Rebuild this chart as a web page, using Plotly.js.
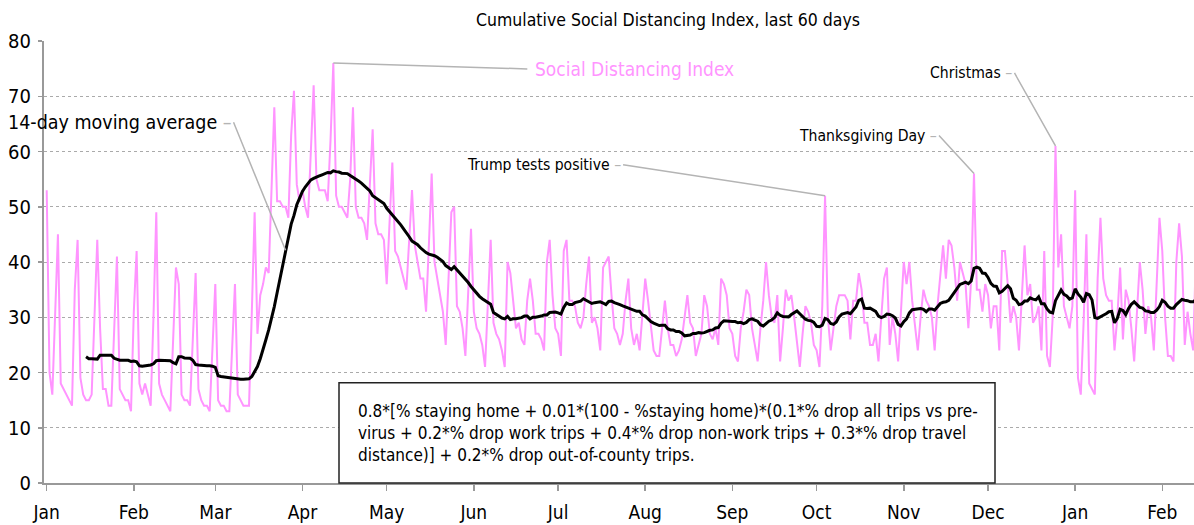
<!DOCTYPE html>
<html><head><meta charset="utf-8">
<script src="https://cdn.plot.ly/plotly-3.0.1.min.js"></script>
<style>html,body{margin:0;padding:0;background:#fff}#chart{width:1194px;height:525px}</style>
</head><body><div id="chart"></div>
<script>
const startDate = '2020-01-01';
const sdi = [
53,20,16,30,
45,18,17,16,15,14,35,
44,19,16,15,15,16,30,
44,28,17,17,14,14,27,
41,17,16,15,15,13,31,
42,18,16,18,16,14,30,
49,18,16,15,14,13,26,
39,36,16,15,15,14,25,
38,17,15,14,14,13,25,
36,15,14,14,13,13,25,
36,16,15,14,14,14,31,
49,27,34,36,39,38,52,
68,51,51,50,50,48,63,
71,54,51,53,50,48,60,
72,55,53,53,53,51,62,
76,52,50,50,49,48,55,
68,50,48,48,47,44,55,
64,47,45,45,44,36,47,
58,42,41,39,37,35,44,
53,43,40,37,37,31,43,
56,40,37,34,31,25,38,
49,50,32,31,28,23,34,
46,31,28,27,25,21,33,
44,29,27,26,24,21,40,
38,33,28,29,26,25,33,
37,33,27,27,26,24,40,
44,34,28,27,23,42,44,
33,33,32,29,28,30,36,
41,29,30,28,24,39,40,
41,34,28,27,25,27,33,
37,28,25,27,24,30,37,
33,28,24,23,23,28,33,
28,25,25,23,24,26,30,
34,29,28,23,25,27,34,
32,27,26,28,25,37,36,
34,28,27,23,22,28,31,
35,34,28,25,22,28,33,
40,34,30,29,34,22,28,
35,33,34,30,26,21,27,
32,31,29,25,24,21,32,
52,30,24,28,32,34,34,
34,33,26,33,33,38,35,
29,29,25,25,27,22,30,
37,39,25,30,27,22,31,
40,36,40,33,28,24,30,
35,33,32,30,24,32,38,
43,37,44,43,39,33,40,
38,36,28,37,56,35,35,
31,36,34,28,32,32,24,
42,42,36,29,32,30,24,
33,43,34,36,29,30,32,
24,42,23,21,30,61,39,
45,32,30,28,32,53,19,
16,29,45,18,17,16,37,
48,37,34,33,33,24,30,
39,26,35,33,28,22,31,
40,35,27,32,30,24,36,
48,42,30,23,23,22,40,
47,41,25,31,27,24,42
];
const maWindow = 14;
const maFirstIndex = 14;
const monthTicks = ['2020-01-01','2020-02-01','2020-03-01','2020-04-01','2020-05-01','2020-06-01','2020-07-01','2020-08-01','2020-09-01','2020-10-01','2020-11-01','2020-12-01','2021-01-01','2021-02-01'];
const monthLabels = ['Jan','Feb','Mar','Apr','May','Jun','Jul','Aug','Sep','Oct','Nov','Dec','Jan','Feb'];
const yTicks = [0,10,20,30,40,50,60,70,80];
const titleText = 'Cumulative Social Distancing Index, last 60 days';
const seriesName = 'Social Distancing Index';
const maName = '14-day moving average';
const sdiLabelDate = '2020-04-12';
const maLabelDate = '2020-03-26';
const eventLabels = ['Trump tests positive','Thanksgiving Day','Christmas'];
const eventDates = ['2020-10-04','2020-11-26','2020-12-25'];
const formulaLines = [
 '0.8*[% staying home + 0.01*(100 - %staying home)*(0.1*% drop all trips vs pre-',
 'virus + 0.2*% drop work trips + 0.4*% drop non-work trips + 0.3*% drop travel',
 'distance)] + 0.2*% drop out-of-county trips.'
];

function addDays(s, n){ const d = new Date(s+'T00:00:00Z'); d.setUTCDate(d.getUTCDate()+n); return d.toISOString().slice(0,10); }
const dates = sdi.map((_, i) => addDays(startDate, i));
const ma = sdi.map((_, i) => i < maFirstIndex ? null : sdi.slice(i-maWindow+1, i+1).reduce((a,b)=>a+b,0)/maWindow);
const idx = d => dates.indexOf(d);

const FONT = "'DejaVu Sans Condensed','Liberation Sans Narrow',sans-serif";
const PINK = '#ff94ff';
const LEAD = '#b4b4b4';

const traces = [
 {x: dates, y: sdi, type:'scatter', mode:'lines', line:{color:PINK, width:2}, name:seriesName, hoverinfo:'skip'},
 {x: dates, y: ma, type:'scatter', mode:'lines', line:{color:'#000', width:3}, name:maName, connectgaps:false, hoverinfo:'skip'}
];

const annotations = [];
annotations.push({x: sdiLabelDate, y: sdi[idx(sdiLabelDate)], xref:'x', yref:'y', text: seriesName,
  showarrow:true, arrowhead:0, arrowwidth:1.5, arrowcolor:LEAD, ax:200, ay:6,
  xanchor:'left', yanchor:'middle', font:{family:FONT, size:19, color:PINK}, startstandoff:6});
annotations.push({x: maLabelDate, y: ma[idx(maLabelDate)], xref:'x', yref:'y',
  text: maName + ' <span style="color:'+LEAD+'">–</span>',
  showarrow:true, arrowhead:0, arrowwidth:1.5, arrowcolor:LEAD, ax:-52, ay:-128,
  xanchor:'right', yanchor:'middle', font:{family:FONT, size:19.5, color:'#000'}});
const evOffsets = [[-202,-31],[-35,-38],[-41,-73]];
eventLabels.forEach((lab, k) => {
  annotations.push({x: eventDates[k], y: sdi[idx(eventDates[k])], xref:'x', yref:'y',
    text: lab + ' <span style="color:'+LEAD+'">–</span>',
    showarrow:true, arrowhead:0, arrowwidth:1.5, arrowcolor:LEAD, ax:evOffsets[k][0], ay:evOffsets[k][1],
    xanchor:'right', yanchor:'middle', font:{family:FONT, size:15.6, color:'#000'}});
});
annotations.push({xref:'paper', yref:'paper', x:(356-44)/1150, y:(483.3-433)/442, xanchor:'left', yanchor:'middle',
  text: formulaLines.join('<br>'), showarrow:false, align:'left', font:{family:FONT, size:17, color:'#000'}});

const layout = {
  width:1194, height:525,
  margin:{l:44, r:0, t:41, b:42, pad:0},
  paper_bgcolor:'#fff', plot_bgcolor:'#fff',
  showlegend:false,
  font:{family:FONT, color:'#000'},
  title:{text:titleText, font:{family:FONT, size:17.5, color:'#000'}, xref:'container', yref:'container', x:668/1194, xanchor:'center', y:1-20/525, yanchor:'middle'},
  xaxis:{type:'date', range:['2019-12-31 00:56','2021-02-12 07:00'], tickmode:'array', tickvals:monthTicks, ticktext:monthLabels,
    showgrid:false, zeroline:false, showline:true, linecolor:'#999', linewidth:2,
    ticks:'outside', ticklen:6, tickwidth:1.5, tickcolor:'#999', tickfont:{family:FONT, size:19, color:'#000'}, ticklabelstandoff:5},
  yaxis:{range:[0,80], tickmode:'array', tickvals:yTicks, showgrid:true, gridcolor:'#aaa', griddash:'dot', gridwidth:1,
    zeroline:false, showline:true, linecolor:'#999', linewidth:2, ticks:'outside', ticklen:4, tickwidth:1.5, tickcolor:'#999',
    tickfont:{family:FONT, size:20, color:'#000'}, ticklabelstandoff:3},
  shapes:[{type:'rect', xref:'paper', yref:'paper', x0:(339-44)/1150, x1:(995-44)/1150, y0:0, y1:(483.3-383)/442,
    line:{color:'#222', width:1.5}, fillcolor:'#fff', layer:'above'}],
  annotations: annotations
};
Plotly.newPlot('chart', traces, layout, {displayModeBar:false, staticPlot:true});
</script></body></html>
